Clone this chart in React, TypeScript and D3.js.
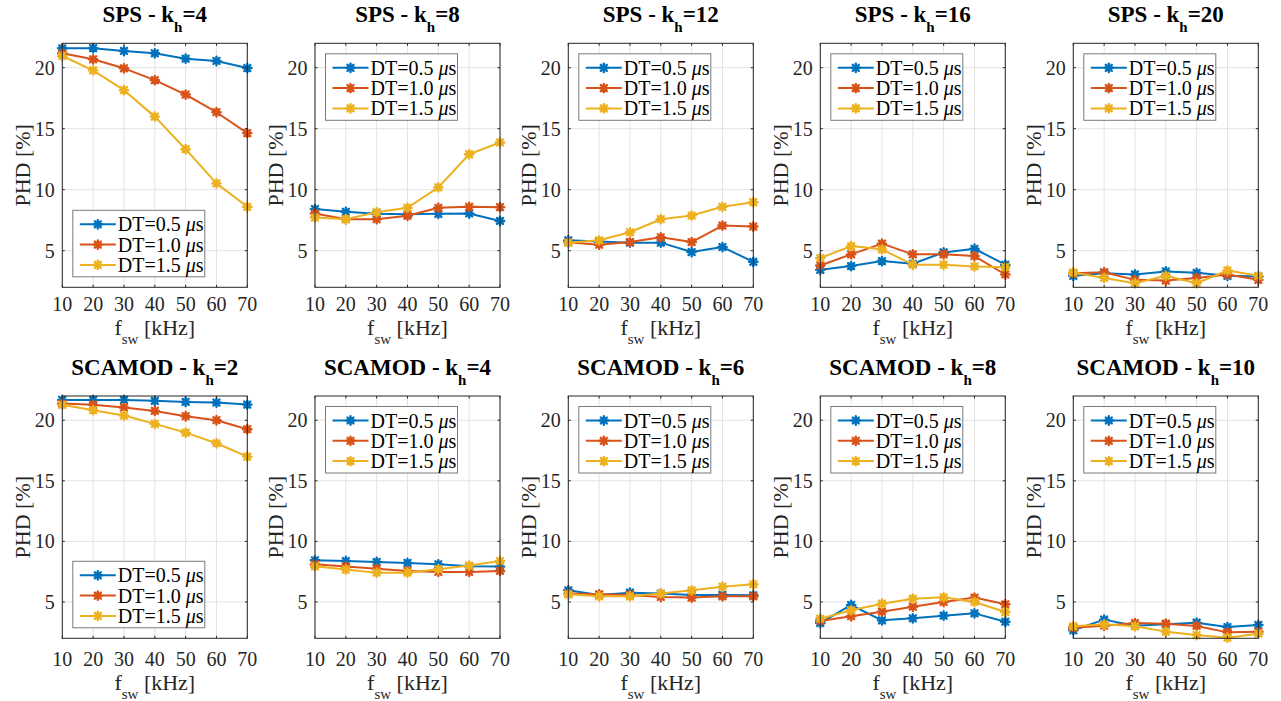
import React from "react";
import * as d3 from "d3";

// ---------- data ----------
const fsw = [10, 20, 30, 40, 50, 60, 70];
const yTicks = [5, 10, 15, 20];
const dtLabels = ["0.5", "1.0", "1.5"];
const seriesColors = ["#0072BD", "#D95319", "#EDB120"];

// each panel: [DT=0.5, DT=1.0, DT=1.5]
const sps_kh4 = [
  [21.59, 21.6, 21.37, 21.18, 20.74, 20.55, 19.97],
  [21.18, 20.69, 19.95, 18.98, 17.8, 16.35, 14.64],
  [20.96, 19.78, 18.16, 15.99, 13.32, 10.52, 8.6],
];
const sps_kh8 = [
  [8.41, 8.19, 8.02, 7.99, 8.02, 8.05, 7.44],
  [8.05, 7.58, 7.58, 7.86, 8.52, 8.6, 8.57],
  [7.72, 7.58, 8.16, 8.52, 10.19, 12.91, 13.87],
];
const sps_kh12 = [
  [5.85, 5.75, 5.66, 5.66, 4.89, 5.3, 4.09],
  [5.69, 5.49, 5.71, 6.1, 5.71, 7.06, 6.98],
  [5.66, 5.85, 6.51, 7.58, 7.88, 8.6, 8.98],
];
const sps_kh16 = [
  [3.43, 3.74, 4.15, 3.93, 4.86, 5.16, 3.85],
  [3.79, 4.7, 5.58, 4.7, 4.7, 4.56, 3.05],
  [4.4, 5.38, 5.11, 3.85, 3.85, 3.71, 3.65],
];
const sps_kh20 = [
  [2.94, 3.16, 3.05, 3.3, 3.19, 2.94, 2.88],
  [3.16, 3.24, 2.61, 2.55, 2.77, 3.05, 2.61],
  [3.21, 2.77, 2.33, 2.94, 2.33, 3.38, 2.94],
];
const scamod_kh2 = [
  [21.68, 21.68, 21.68, 21.6, 21.51, 21.46, 21.29],
  [21.38, 21.27, 21.05, 20.77, 20.33, 20.0, 19.26],
  [21.27, 20.83, 20.39, 19.7, 18.98, 18.1, 17.0],
];
const scamod_kh4 = [
  [8.44, 8.38, 8.3, 8.22, 8.11, 7.94, 7.92],
  [8.11, 7.92, 7.75, 7.56, 7.48, 7.48, 7.56],
  [7.94, 7.67, 7.42, 7.42, 7.7, 8.0, 8.38],
];
const scamod_kh6 = [
  [5.96, 5.58, 5.77, 5.69, 5.58, 5.58, 5.55],
  [5.69, 5.63, 5.58, 5.41, 5.36, 5.47, 5.47],
  [5.63, 5.47, 5.47, 5.69, 5.96, 6.26, 6.46],
];
const scamod_kh8 = [
  [3.26, 4.75, 3.48, 3.65, 3.87, 4.06, 3.37],
  [3.43, 3.82, 4.2, 4.61, 5.0, 5.36, 4.81],
  [3.62, 4.31, 4.86, 5.27, 5.38, 5.0, 4.17],
];
const scamod_kh10 = [
  [2.66, 3.54, 3.04, 3.15, 3.29, 2.93, 3.1],
  [2.88, 3.04, 3.26, 3.21, 3.02, 2.49, 2.55],
  [2.99, 3.15, 2.99, 2.55, 2.27, 2.05, 2.38],
];

const panelMods = ["SPS", "SPS", "SPS", "SPS", "SPS", "SCAMOD", "SCAMOD", "SCAMOD", "SCAMOD", "SCAMOD"];
const panelKh = ["4", "8", "12", "16", "20", "2", "4", "6", "8", "10"];
const panelData = [sps_kh4, sps_kh8, sps_kh12, sps_kh16, sps_kh20, scamod_kh2, scamod_kh4, scamod_kh6, scamod_kh8, scamod_kh10];
const panelLegendBottom = [true, false, false, false, false, true, false, false, false, false];

// ---------- layout ----------
const W = 1281;
const H = 701;
const colLeft = [62.3, 315, 568.3, 820.3, 1073.3];
const axW = 185;
const rows = [
  { top: 43.3, bottom: 287.3, titleY: 22, tickY: 311, xlabY: 335 },
  { top: 396, bottom: 638.3, titleY: 375, tickY: 665.5, xlabY: 690 },
];
const FONT = "Liberation Serif";
const AX = "#262626";

function starPath(cx: number, cy: number, r: number) {
  const d = r * 0.72;
  return `M${cx - r},${cy}h${2 * r}M${cx},${cy - r}v${2 * r}M${cx - d},${cy - d}l${2 * d},${2 * d}M${cx - d},${cy + d}l${2 * d},${-2 * d}`;
}

function Panel({ idx }: { idx: number }) {
  const row = rows[Math.floor(idx / 5)];
  const left = colLeft[idx % 5];
  const right = left + axW;
  const x = d3.scaleLinear().domain([10, 70]).range([left, right]);
  const y = d3.scaleLinear().domain([2, 22]).range([row.bottom, row.top]);
  const line = d3
    .line<number>()
    .x((_, i) => x(fsw[i]))
    .y((v) => y(v));
  const data = panelData[idx];
  const cx = (left + right) / 2;
  const cy = (row.top + row.bottom) / 2;
  const tk = 2.5;

  const legW = 132;
  const legH = 66.5;
  const legX = left + 10.5;
  const legY = panelLegendBottom[idx] ? row.bottom - 10.5 - legH : row.top + 10.5;

  return (
    <g>
      {/* grid */}
      {fsw.map((v) => (
        <line key={"gx" + v} x1={x(v)} x2={x(v)} y1={row.top} y2={row.bottom} stroke="#e3e3e3" strokeWidth={1} />
      ))}
      {yTicks.map((v) => (
        <line key={"gy" + v} x1={left} x2={right} y1={y(v)} y2={y(v)} stroke="#e3e3e3" strokeWidth={1} />
      ))}
      {/* series */}
      {data.map((s, si) => (
        <g key={"s" + si}>
          <path d={line(s) || ""} fill="none" stroke={seriesColors[si]} strokeWidth={2} strokeLinejoin="round" />
          {s.map((v, i) => (
            <path key={i} d={starPath(x(fsw[i]), y(v), 4.2)} stroke={seriesColors[si]} strokeWidth={2.4} strokeLinecap="round" fill="none" />
          ))}
        </g>
      ))}
      {/* box */}
      <rect x={left} y={row.top} width={axW} height={row.bottom - row.top} fill="none" stroke={AX} strokeWidth={1} />
      {/* ticks */}
      {fsw.map((v) => (
        <g key={"tx" + v}>
          <line x1={x(v)} x2={x(v)} y1={row.bottom} y2={row.bottom - tk} stroke={AX} />
          <line x1={x(v)} x2={x(v)} y1={row.top} y2={row.top + tk} stroke={AX} />
          <text x={x(v)} y={row.tickY} textAnchor="middle" fontSize={20} fill={AX} fontFamily={FONT}>
            {v}
          </text>
        </g>
      ))}
      {yTicks.map((v) => (
        <g key={"ty" + v}>
          <line x1={left} x2={left + tk} y1={y(v)} y2={y(v)} stroke={AX} />
          <line x1={right} x2={right - tk} y1={y(v)} y2={y(v)} stroke={AX} />
          <text x={left - 7.5} y={y(v) + 6.8} textAnchor="end" fontSize={20} fill={AX} fontFamily={FONT}>
            {v}
          </text>
        </g>
      ))}
      {/* y label */}
      <text
        transform={`translate(${left - 32},${cy}) rotate(-90)`}
        textAnchor="middle"
        fontSize={22}
        fill={AX}
        fontFamily={FONT}
      >
        PHD [%]
      </text>
      {/* x label */}
      <text x={cx} y={row.xlabY} textAnchor="middle" fontSize={22} fill={AX} fontFamily={FONT}>
        f
        <tspan fontSize={15} dy={8.5}>sw</tspan>
        <tspan dy={-8.5}>{"\u00a0[kHz]"}</tspan>
      </text>
      {/* title */}
      <text x={cx} y={row.titleY} textAnchor="middle" fontSize={23} fontWeight="bold" fill="#000" fontFamily={FONT}>
        {panelMods[idx] + " - k"}
        <tspan fontSize={15} dy={10}>h</tspan>
        <tspan dy={-10}>{"=" + panelKh[idx]}</tspan>
      </text>
      {/* legend */}
      <g>
        <rect x={legX} y={legY} width={legW} height={legH} fill="#fff" stroke="#7a7a7a" strokeWidth={1} />
        {dtLabels.map((lab, i) => {
          const ry = legY + 14 + i * 20.3;
          return (
            <g key={"l" + i}>
              <line x1={legX + 7} x2={legX + 43} y1={ry} y2={ry} stroke={seriesColors[i]} strokeWidth={2} />
              <path d={starPath(legX + 25, ry, 4.2)} stroke={seriesColors[i]} strokeWidth={2.4} strokeLinecap="round" fill="none" />
              <text x={legX + 45} y={ry + 7} fontSize={20} fill="#000" fontFamily={FONT}>
                {"DT=" + lab + "\u00a0"}
                <tspan fontStyle="italic">{"\u03bc"}</tspan>
                s
              </text>
            </g>
          );
        })}
      </g>
    </g>
  );
}

export default function App() {
  return (
    <svg
      width={W}
      height={H}
      viewBox={`0 0 ${W} ${H}`}
      style={{ position: "absolute", left: 0, top: 0, background: "#fff", fontFamily: FONT }}
    >
      <rect x={0} y={0} width={W} height={H} fill="#fff" />
      {panelData.map((_, i) => (
        <Panel key={i} idx={i} />
      ))}
    </svg>
  );
}
